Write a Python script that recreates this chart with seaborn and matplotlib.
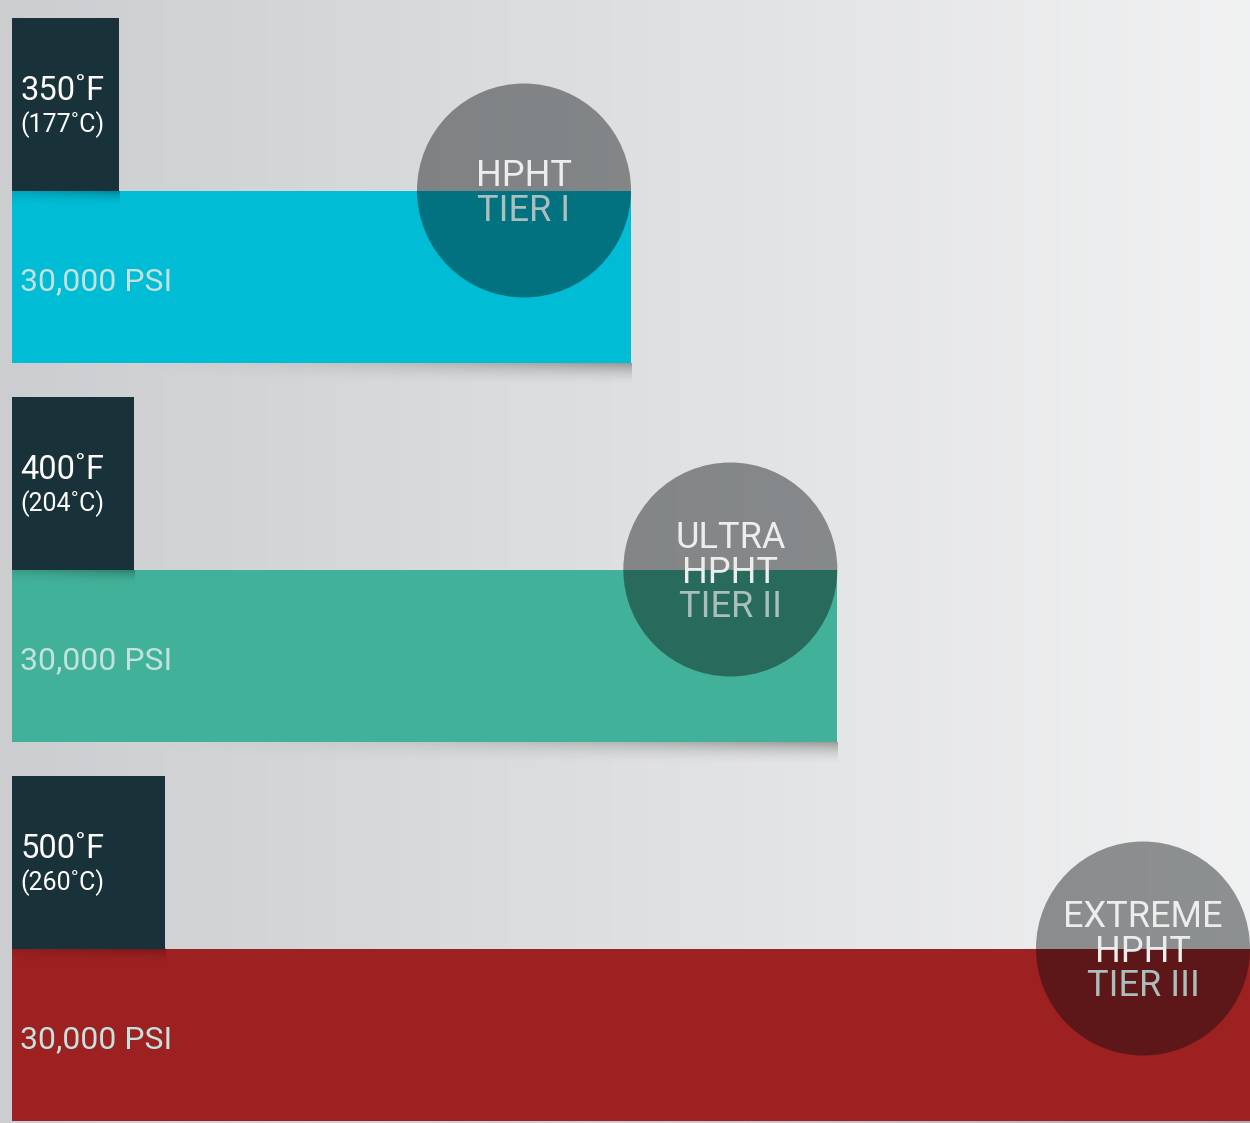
import numpy as np
import matplotlib
matplotlib.use("Agg")
import matplotlib.pyplot as plt
import seaborn as sns
import pandas as pd
from matplotlib.patches import Rectangle, Ellipse

# ---- data ----
temps_f = [350, 400, 500]
temps_c = [177, 204, 260]
pressure_psi = [30000, 30000, 30000]
tier_names = ["HPHT TIER I", "ULTRA HPHT TIER II", "EXTREME HPHT TIER III"]
tier_lines = [["HPHT", "TIER I"], ["ULTRA", "HPHT", "TIER II"], ["EXTREME", "HPHT", "TIER III"]]
bar_colors = ["#00bcd4", "#42b199", "#9e2121"]
base_temp_f = 200
max_temp_f = 500

sns.set_theme(style="white")
plt.rcParams["font.family"] = ["Roboto", "DejaVu Sans"]

W, H = 1250, 1123
fig = plt.figure(figsize=(W / 100, H / 100), dpi=100)

# background gradient
bg = fig.add_axes([0, 0, 1, 1])
bg.axis("off")
g = np.linspace(0, 1, 512)
left = np.array([0.80, 0.805, 0.815])
right = np.array([0.945, 0.947, 0.95])
row = left[None, :] * (1 - g[:, None]) + right[None, :] * g[:, None]
bg.imshow(row[None, :, :], aspect="auto", extent=(0, 1, 0, 1))
bg.set_xlim(0, 1)
bg.set_ylim(0, 1)

# main axes
x0px = 12
ax = fig.add_axes([x0px / W, 0, (W - x0px) / W, 1])
ax.patch.set_alpha(0)
px_x = (W - x0px) / (max_temp_f - base_temp_f)
spacing = 379.0
c0 = 276.5
bar_h = 172 / spacing
box_h = 173 / spacing

df = pd.DataFrame({"tier": tier_names, "temp_f": temps_f})
sns.barplot(data=df, x="temp_f", y="tier", hue="tier", palette=bar_colors,
            orient="h", width=bar_h, saturation=1, legend=False, ax=ax,
            zorder=2, linewidth=0, edgecolor="none")

for i, (tf, tc, psi, lines) in enumerate(zip(temps_f, temps_c, pressure_psi, tier_lines)):
    top = i - bar_h / 2
    bot = i + bar_h / 2
    # shadow under bar
    n, m = 40, 200
    rr = np.linspace(0, 1, n)[:, None]
    cc = np.linspace(0, 1, m)[None, :]
    alpha = 0.32 * (1 - rr) ** 2 * cc ** 1.5
    sh = np.zeros((n, m, 4))
    sh[..., 3] = alpha
    sx0 = base_temp_f + 100 / px_x
    ax.imshow(sh, aspect="auto", extent=(sx0, tf, bot + 24 / spacing, bot),
              origin="upper", zorder=1, interpolation="bilinear")
    # dark temperature box
    bw = tf * 0.0742
    ax.add_patch(Rectangle((base_temp_f, top - box_h), bw, box_h,
                           color="#19323a", zorder=3, lw=0))
    # shadow of box on bar
    n2 = 30
    rr2 = np.linspace(0, 1, n2)[:, None]
    cc2 = np.linspace(0, 1, 100)[None, :]
    a2 = 0.28 * (1 - rr2) ** 2 * (0.4 + 0.6 * cc2)
    sh2 = np.zeros((n2, 100, 4))
    sh2[..., 3] = a2
    ax.imshow(sh2, aspect="auto", extent=(base_temp_f, base_temp_f + bw, top + 16 / spacing, top),
              origin="upper", zorder=2.5, interpolation="bilinear")
    # temperature labels
    tx = base_temp_f + 8 / px_x
    ax.text(tx, top - box_h + 73 / spacing, f"{tf}\u02daF", color="white",
            fontsize=23.5, va="center", ha="left", zorder=5)
    ax.text(tx, top - box_h + 107 / spacing, f"({tc}\u02daC)", color="white",
            fontsize=18, va="center", ha="left", zorder=5)
    # pressure label
    ax.text(tx, i + 5 / spacing, f"{psi:,} PSI", color="#c3e2de", fontsize=23,
            va="center", ha="left", zorder=5)
    # circle
    r = 107
    rx, ry = r / px_x, r / spacing
    cx = tf - rx
    ax.add_patch(Ellipse((cx, top), 2 * rx, 2 * ry, color="#050a0c", alpha=0.42,
                         lw=0, zorder=4, clip_on=False))
    k = len(lines)
    dy = 34.5 / spacing
    for j, ln in enumerate(lines):
        col = "#aabfbb" if j == k - 1 else "#ededed"
        ax.text(cx, top + (j - (k - 1) / 2) * dy + 3 / spacing, ln, color=col,
                fontsize=26, ha="center", va="center", zorder=6)

ax.set_xlim(base_temp_f, max_temp_f)
ax.set_ylim((H - c0) / spacing, -c0 / spacing)
ax.axis("off")

fig.savefig("out.png", dpi=100)
